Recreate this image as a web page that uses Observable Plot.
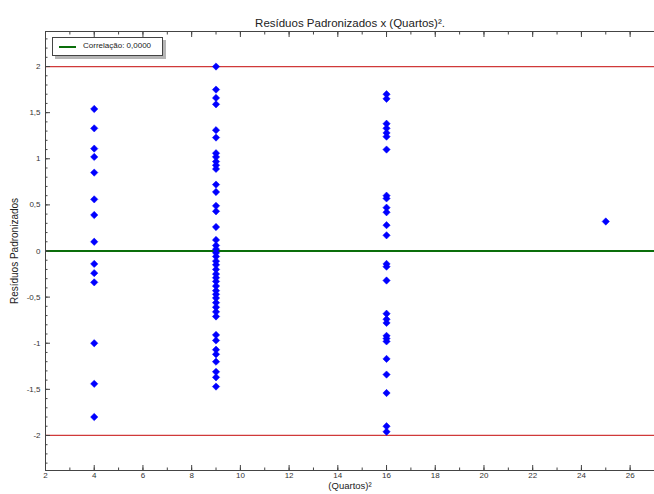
<!DOCTYPE html>
<html>
<head>
<meta charset="utf-8">
<script src="https://cdn.jsdelivr.net/npm/d3@7"></script>
<script src="https://cdn.jsdelivr.net/npm/@observablehq/plot@0.6"></script>
<style>
  body { margin: 0; background: #fff; font-family: "Liberation Sans", Arial, sans-serif; }
  #wrap { position: relative; width: 654px; height: 494px; }
  #legend { position: absolute; left: 52px; top: 37px; width: 109px; height: 17px; border: 1px solid #444;
            background: #fff; box-shadow: 3px 3px 0 #b5b5b5; font-size: 8px; color: #222; }
  #legend .sw { position: absolute; left: 6px; top: 8px; width: 17px; height: 2px; background: #0a6e0a; }
  #legend .lb { position: absolute; left: 30px; top: 3px; white-space: nowrap; }
</style>
</head>
<body>
<div id="wrap"><div id="legend"><div class="sw"></div><div class="lb">Correlação: 0,0000</div></div></div>
<script>
const title = "Resíduos Padronizados x (Quartos)².";
const xLabel = "(Quartos)²";
const yLabel = "Resíduos Padronizados";
const legendLabel = "Correlação: 0,0000";

const quartos = [4, 9, 16, 25];
const res4 = [1.54, 1.33, 1.11, 1.02, 0.85, 0.56, 0.39, 0.10, -0.14, -0.24, -0.34, -1.00, -1.44, -1.80];
const res9 = [2.00, 1.75, 1.66, 1.59, 1.31, 1.23, 1.06, 1.02, 0.97, 0.93, 0.89, 0.72, 0.64, 0.49, 0.43, 0.26,
              0.12, 0.06, 0.02, -0.02, -0.06, -0.11, -0.15, -0.20, -0.25, -0.29, -0.33, -0.38, -0.43, -0.47,
              -0.51, -0.56, -0.61, -0.66, -0.71, -0.91, -0.97, -1.07, -1.12, -1.20, -1.31, -1.37, -1.47];
const res16 = [1.70, 1.65, 1.38, 1.33, 1.28, 1.24, 1.10, 0.60, 0.57, 0.47, 0.42, 0.28, 0.17,
               -0.14, -0.17, -0.32, -0.68, -0.74, -0.78, -0.92, -0.95, -0.98, -1.17, -1.34, -1.54, -1.90, -1.96];
const res25 = [0.32];

const xTicks = [2, 4, 6, 8, 10, 12, 14, 16, 18, 20, 22, 24, 26];
const yTicks = [-2, -1.5, -1, -0.5, 0, 0.5, 1, 1.5, 2];
const limits = [-2, 2];
const zeroLine = [0];

const xDomain = [2, 27];
const yDomain = [-2.38, 2.38];

const points = [];
[res4, res9, res16, res25].forEach((arr, i) => arr.forEach(v => points.push({x: quartos[i], y: v})));

const xMinor = d3.range(2, 27.01, 1);
const yMinor = d3.range(-23, 24, 1).map(d => d / 10);
const fmt = d => String(d).replace(".", ",");

const chart = Plot.plot({
  width: 654,
  height: 494,
  marginLeft: 45,
  marginRight: 0,
  marginTop: 31,
  marginBottom: 24,
  style: { fontFamily: "Liberation Sans, Arial, sans-serif", color: "#333", background: "#fff" },
  x: { domain: xDomain },
  y: { domain: yDomain },
  marks: [
    Plot.ruleY(limits, { stroke: "#d03a3a", strokeWidth: 1.2 }),
    Plot.ruleY(zeroLine, { stroke: "#0a6e0a", strokeWidth: 2 }),
    Plot.dot(points, { x: "x", y: "y", symbol: "diamond2", r: 3.3, fill: "#0000ff", stroke: "#0000ff", strokeWidth: 0.5 }),
    // frame lines (left, bottom, top)
    Plot.ruleX([xDomain[0]], { stroke: "#444" }),
    Plot.ruleY([yDomain[0], yDomain[1]], { stroke: "#444" }),
    // bottom axis
    Plot.axisX(xTicks, { anchor: "bottom", tickSize: 0, tickPadding: 2, tickFormat: fmt, fontSize: 8, label: null }),
    Plot.axisX(xTicks, { anchor: "bottom", tickSize: -5, text: null, label: null, stroke: "#444" }),
    Plot.axisX(xMinor, { anchor: "bottom", tickSize: -2.5, text: null, label: null, stroke: "#444" }),
    Plot.axisX(xTicks, { anchor: "top", tickSize: -5, text: null, label: null, stroke: "#444" }),
    Plot.axisX(xMinor, { anchor: "top", tickSize: -2.5, text: null, label: null, stroke: "#444" }),
    // left axis
    Plot.axisY(yTicks, { anchor: "left", tickSize: 0, tickPadding: 5, tickFormat: fmt, fontSize: 8, label: null }),
    Plot.axisY(yTicks, { anchor: "left", tickSize: -5, text: null, label: null, stroke: "#444" }),
    Plot.axisY(yMinor, { anchor: "left", tickSize: -2.5, text: null, label: null, stroke: "#444" }),
    // titles
    Plot.text([title], { frameAnchor: "top", dy: -13, fontSize: 11.5, fill: "#222" }),
    Plot.text([xLabel], { frameAnchor: "bottom", dy: 18.5, fontSize: 9.5, fill: "#222" }),
    Plot.text([yLabel], { frameAnchor: "left", textAnchor: "middle", dx: -31, rotate: -90, fontSize: 10, fill: "#222" })
  ]
});
document.getElementById("wrap").prepend(chart);
chart.style.display = "block";
</script>
</body>
</html>
